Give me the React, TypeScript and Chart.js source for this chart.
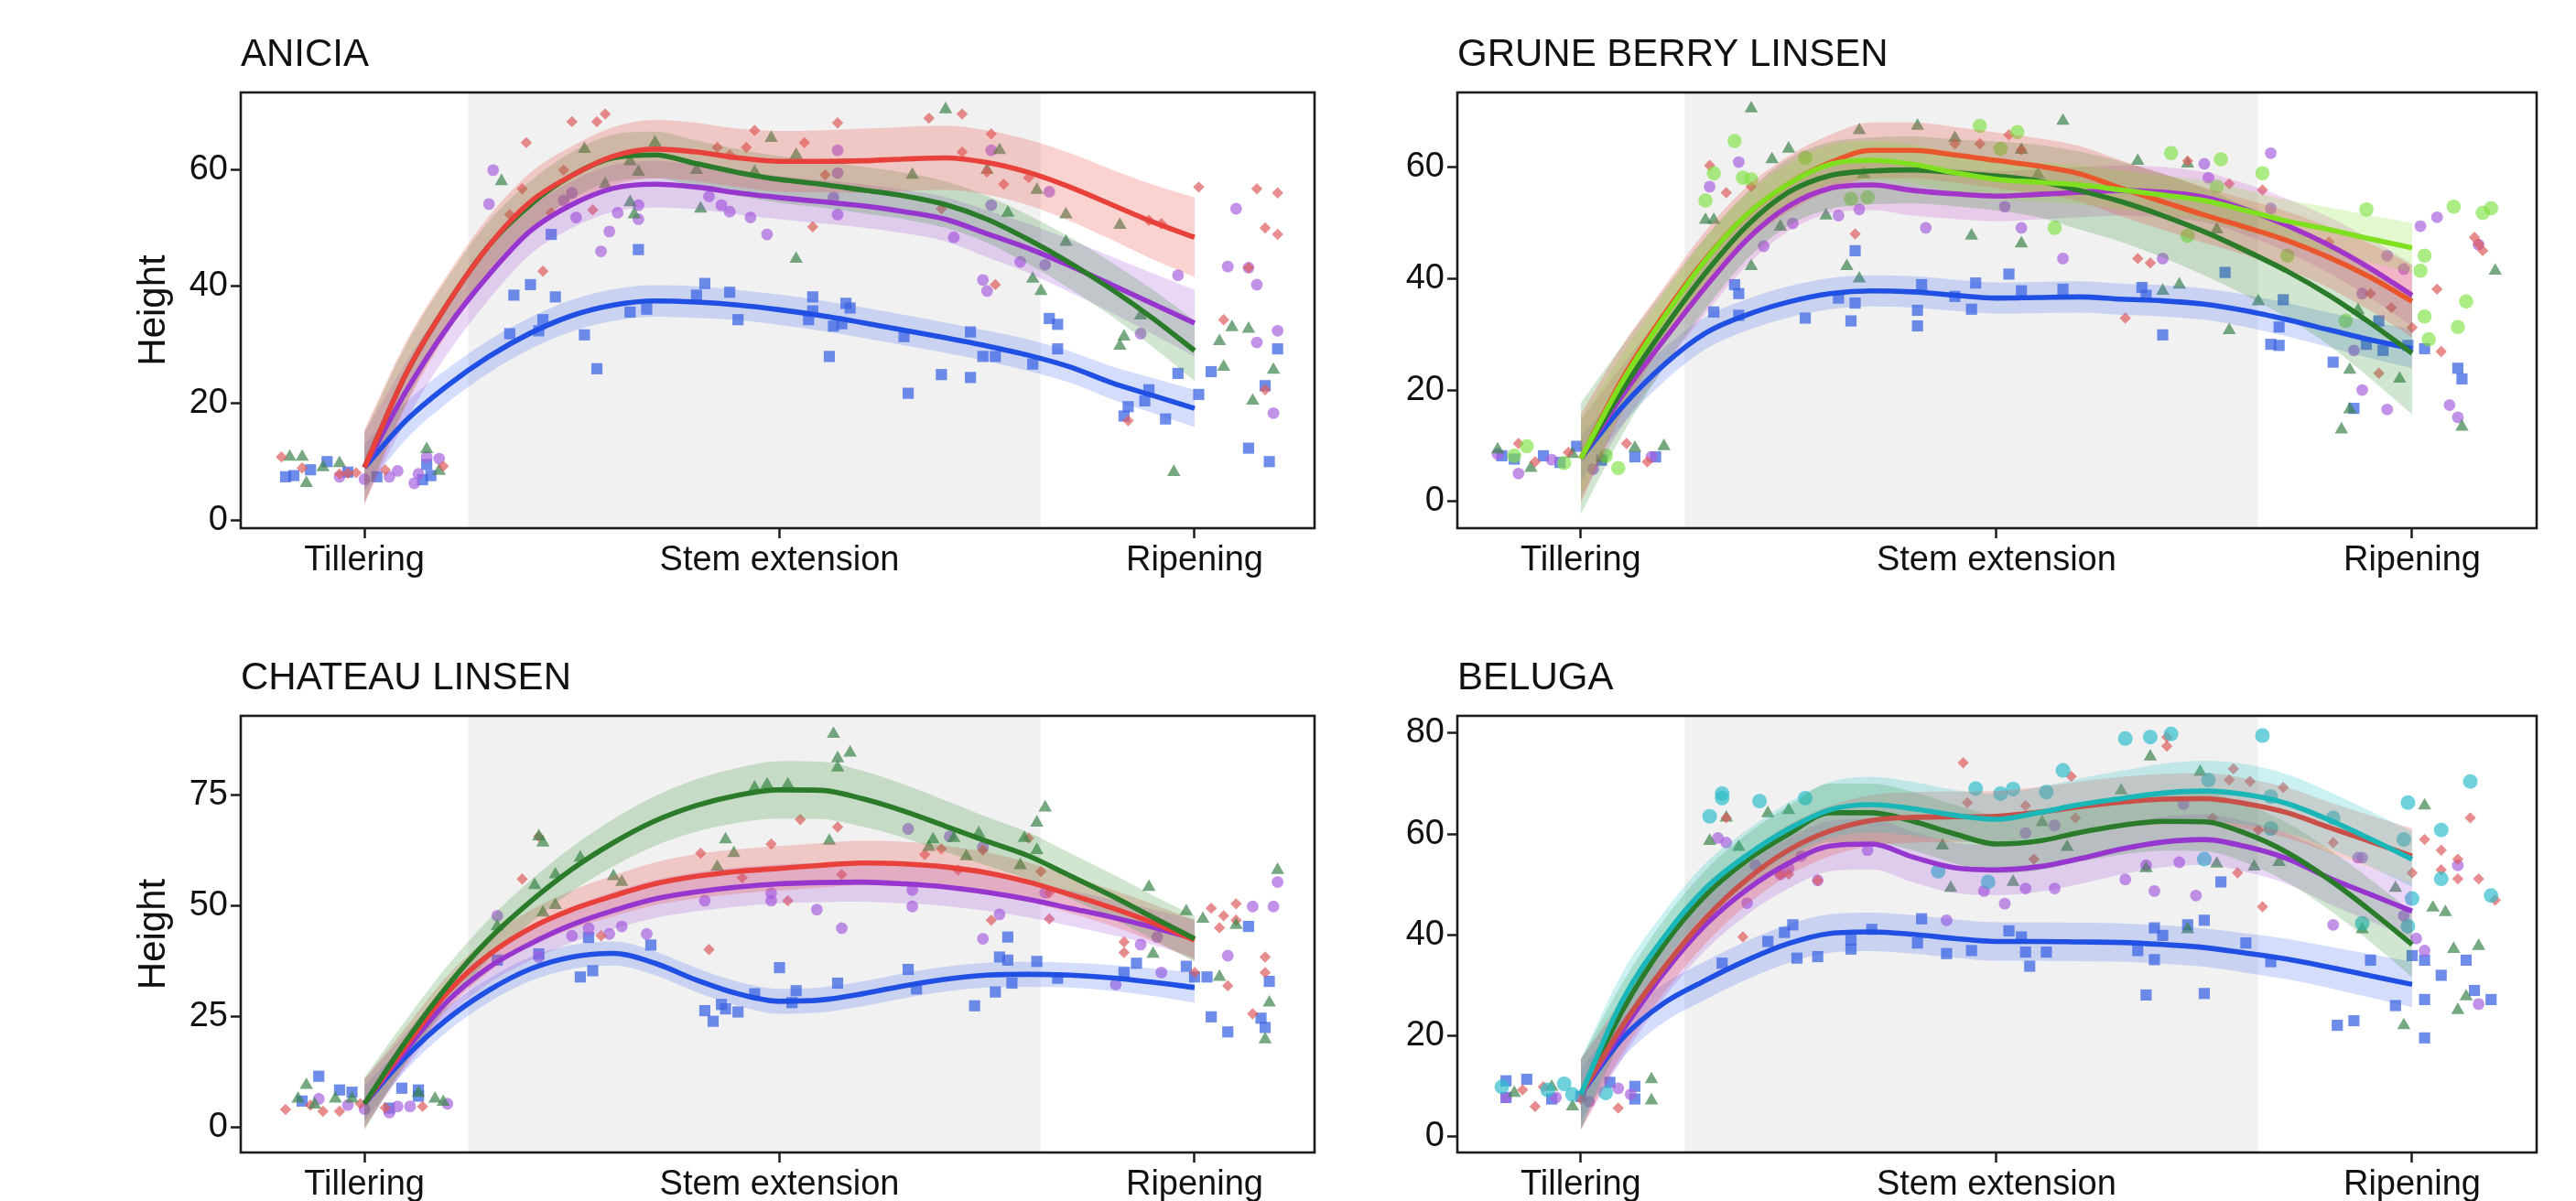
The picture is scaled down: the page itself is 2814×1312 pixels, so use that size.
import React, { useEffect, useRef } from "react";
import { Chart, registerables } from "chart.js";

Chart.register(...registerables);
Chart.defaults.font.family = '"Liberation Sans", Arial, Helvetica, sans-serif';

// ---------- shared axis data ----------
const STAGES = ["Tillering", "Stem extension", "Ripening"];
const STAGE_POS = [1, 2, 3];
const STEM_BAND = [1.25, 2.629];
const Y_TITLE = "Height";
const FIT_X = [1.0, 1.1, 1.2, 1.3, 1.4, 1.5, 1.6, 1.7, 1.8, 1.9, 2.0, 2.1, 2.2, 2.3, 2.4, 2.5, 2.6, 2.7, 2.8, 2.9, 3.0];

// ---------- ANICIA ----------
const ANICIA_Y_TICKS = [0, 20, 40, 60];
const anicia_red_fit = [9, 25, 37, 47, 54.5, 59, 62.3, 63.5, 63, 62, 61.4, 61.4, 61.5, 61.8, 62, 61.2, 59.5, 57, 54, 51, 48.4];
const anicia_red_se = [6.5, 5.5, 5, 5, 5, 5, 5, 5, 5, 5, 5.2, 5.3, 5.5, 5.5, 5.5, 5.5, 5.6, 5.8, 6, 6.4, 6.8];
const anicia_green_fit = [9, 25, 37, 47, 54, 59, 62, 62.5, 61, 59.5, 58.3, 57.5, 56.5, 55.5, 54, 51.5, 48, 44, 39.5, 34.5, 29];
const anicia_green_se = [6, 5, 4.5, 4.2, 4, 4, 4, 4, 4, 4, 4, 4, 4, 4, 4, 4, 4.2, 4.4, 4.6, 4.9, 5.2];
const anicia_purple_fit = [9, 22, 33, 42, 49.5, 54, 56.8, 57.5, 57, 56, 55.2, 54.5, 53.8, 52.8, 51.5, 49, 46.5, 43.5, 40.3, 37, 33.7];
const anicia_purple_se = [6, 5, 4.5, 4.2, 4, 4, 4, 4, 3.8, 3.7, 3.7, 3.7, 3.7, 3.7, 3.8, 4, 4.2, 4.5, 4.8, 5.2, 5.7];
const anicia_blue_fit = [9, 17, 23, 28, 32, 35, 36.8, 37.5, 37.3, 36.8, 36, 35, 33.8, 32.5, 31.2, 29.8, 28.2, 26.2, 23.5, 21.3, 19.1];
const anicia_blue_se = [4, 3.2, 2.9, 2.8, 2.7, 2.7, 2.7, 2.7, 2.7, 2.6, 2.6, 2.6, 2.6, 2.6, 2.6, 2.6, 2.7, 2.7, 2.8, 3, 3.2];
const anicia_blue_pts = [[0.81,7.4],[0.83,7.6],[0.91,10.0],[1.03,7.4],[1.14,6.9],[1.16,7.6],[1.15,9.5],[0.87,8.6],[0.96,8.2],
  [1.45,48.9],[1.66,46.3],[1.40,40.3],[1.36,38.5],[1.46,38.2],[1.43,34.3],[1.35,31.9],[1.42,32.4],[1.53,31.7],[1.56,25.9],[1.64,35.6],[1.68,36.1],[1.82,40.5],[1.88,39.0],[1.90,34.3],[1.80,38.5],[2.08,38.2],[2.08,35.8],[2.07,34.3],[2.16,37.1],[2.17,36.3],[2.13,33.2],[2.15,33.6],[2.12,28.0],[2.30,31.4],[2.46,32.2],[2.39,24.9],[2.46,24.4],[2.31,21.7],[2.49,28.0],[2.52,28.0],[2.61,26.7],
  [2.65,34.5],[2.67,33.5],[2.67,29.3],[2.96,25.1],[2.89,22.3],[2.88,20.4],[2.84,19.4],[2.93,17.3],[2.83,17.8],[3.01,21.5],[3.04,25.4],[3.20,29.3],[3.17,23.0],[3.13,12.3],[3.18,10.0]];
const anicia_red_pts = [[0.80,10.8],[0.85,8.9],[0.94,7.9],[0.96,8.0],[0.98,8.1],[1.19,9.2],[1.05,8.6],
  [1.50,68.2],[1.56,68.2],[1.58,69.5],[1.39,64.6],[1.38,56.7],[1.35,52.3],[1.48,59.9],[1.43,42.6],[1.45,52.6],[1.55,53.1],[1.94,66.7],[1.92,63.8],[1.85,63.8],[1.88,62.5],[2.14,68.0],[2.06,64.6],[2.36,68.8],[2.44,69.5],[2.51,66.1],[2.44,63.0],[2.50,59.6],[2.54,57.5],[2.60,58.6],[2.39,53.3],[2.08,50.2],[2.11,59.1],[2.52,40.3],[2.89,51.3],[2.92,50.7],[2.84,17.0],[3.01,57.0],
  [3.15,56.7],[3.20,56.0],[3.17,50.0],[3.20,48.9],[3.07,34.3],[3.13,43.2],[3.17,22.3]];
const anicia_green_pts = [[0.82,10.8],[0.85,10.8],[0.86,6.3],[0.94,9.7],[1.15,12.1],[1.18,8.4],[0.90,9.0],
  [1.33,58.0],[1.53,63.5],[1.70,64.6],[1.64,61.4],[1.66,59.6],[1.64,54.4],[1.65,52.3],[1.58,57.5],[1.81,53.3],[1.98,65.4],[1.94,59.6],[1.80,59.9],[2.40,70.3],[2.04,62.5],[2.32,59.1],[2.53,63.3],[2.50,59.9],[2.62,56.5],[2.69,52.3],[2.82,50.5],[2.55,52.6],[2.69,47.6],[2.04,44.7],[2.61,41.3],[2.63,39.2],[2.87,35.0],[2.83,31.4],[2.82,29.8],[2.95,8.2],
  [3.09,33.0],[3.13,32.7],[3.06,30.6],[3.07,26.2],[3.19,25.7],[3.14,20.4]];
const anicia_purple_pts = [[0.94,7.4],[1.06,7.4],[1.08,8.4],[1.12,6.3],[1.15,10.8],[1.18,10.5],[1.13,7.9],[1.00,7.0],
  [1.31,59.9],[1.30,54.1],[1.50,56.0],[1.51,51.8],[1.61,52.6],[1.59,49.4],[1.57,46.0],[1.66,53.9],[1.66,51.5],[1.83,55.4],[1.86,53.9],[1.88,52.8],[1.93,51.8],[1.97,48.9],[1.48,54.7],[2.14,63.3],[2.14,59.4],[2.14,52.3],[2.13,55.2],[2.42,48.4],[2.51,63.3],[2.51,53.9],[2.58,44.2],[2.64,43.7],[2.49,41.1],[2.50,39.2],[2.65,56.2],[2.87,31.9],[2.96,41.9],
  [3.10,53.3],[3.08,43.4],[3.13,43.2],[3.15,40.3],[3.20,32.4],[3.15,30.4],[3.19,18.3]];

// ---------- GRUNE BERRY LINSEN ----------
const GRUNE_Y_TICKS = [0, 20, 40, 60];
const grune_lime_fit = [7.7, 21.5, 33, 43.3, 51.5, 57, 60.5, 61.2, 60.5, 59, 57.8, 57.3, 56.8, 55.9, 55, 54, 52.2, 50.3, 48.8, 47.1, 45.5];
const grune_lime_se = [7, 5, 4.2, 4, 3.8, 3.6, 3.5, 3.5, 3.5, 3.5, 3.5, 3.5, 3.5, 3.5, 3.5, 3.6, 3.7, 3.8, 4, 4.2, 4.5];
const grune_red_fit = [7.7, 22, 33.5, 43.5, 51.5, 57, 60.8, 63, 63, 62.2, 61.2, 60.2, 58.8, 56.2, 53.8, 51.4, 49.2, 46.8, 43.8, 40.2, 35.9];
const grune_red_se = [8, 6, 5, 5, 5, 5, 5, 5, 5, 5, 5, 5, 5, 5, 5, 5, 5, 5.2, 5.5, 6, 6.5];
const grune_green_fit = [7.7, 20, 31, 41, 49.5, 55.5, 58.5, 59.3, 59.5, 59, 58.4, 57.5, 55.8, 53.8, 51.3, 48.4, 45, 41.3, 37, 32, 26.6];
const grune_green_se = [10, 8, 7, 6.5, 6, 6, 6, 6, 6, 6, 6.2, 6.5, 7, 7.2, 7.5, 7.8, 8, 8.4, 9, 10, 11];
const grune_purple_fit = [7.7, 19, 29, 38.5, 47, 53, 56.2, 56.8, 55.8, 55.2, 54.8, 55.1, 55.5, 55.8, 55.5, 54.6, 52.4, 49.5, 46, 41.8, 37];
const grune_purple_se = [7, 5.5, 5, 4.8, 4.6, 4.5, 4.5, 4.5, 4.5, 4.5, 4.5, 4.5, 4.5, 4.5, 4.5, 4.5, 4.6, 4.8, 5, 5.3, 5.6];
const grune_blue_fit = [7.7, 17, 24.5, 30.2, 33.5, 35.8, 37.3, 37.8, 37.6, 37, 36.5, 36.6, 36.7, 36.3, 36, 35.4, 34.2, 32.6, 30.8, 29, 27.4];
const grune_blue_se = [4, 3.2, 3, 2.9, 2.8, 2.8, 2.8, 2.8, 2.8, 2.8, 2.8, 2.8, 2.8, 2.8, 2.8, 2.8, 2.9, 3, 3.1, 3.3, 3.5];
const grune_blue_pts = [[0.81,8.2],[0.84,7.6],[0.91,8.2],[0.99,9.9],[1.13,8.0],[1.18,8.0],[1.05,7.4],[0.95,7.0],
  [1.66,45.0],[1.37,38.9],[1.38,37.3],[1.32,34.0],[1.38,33.4],[1.54,32.9],[1.62,36.5],[1.66,35.6],[1.65,32.4],[1.81,34.3],[1.81,31.5],[1.82,38.9],[1.95,39.2],[1.94,34.5],[1.90,36.8],[2.03,40.8],[2.06,37.8],[2.16,38.1],[2.35,38.4],[2.36,37.0],[2.40,29.9],[2.55,41.1],[2.66,28.2],[2.68,28.0],[2.69,36.2],[2.68,31.3],[2.92,32.4],[2.81,25.0],[2.89,28.2],[2.93,27.1],[2.86,16.7],[2.99,28.0],
  [3.03,27.4],[3.11,23.9],[3.12,22.0]];
const grune_red_pts = [[0.85,10.4],[0.89,7.1],[1.11,10.4],[1.16,7.1],[0.97,8.8],
  [1.31,60.3],[1.35,55.4],[1.41,56.5],[1.66,48.0],[1.96,64.2],[1.90,64.2],[2.03,65.8],[2.06,63.1],[2.46,61.1],[2.56,57.0],[2.34,43.6],[2.37,42.8],[2.31,32.9],[2.64,55.9],[2.80,46.6],[2.90,37.3],[2.95,34.8],[3.00,31.2],[2.92,23.0],
  [3.06,38.1],[3.07,26.9],[3.15,47.4],[3.17,45.0],[3.16,46.2]];
const grune_green_pts = [[0.80,9.3],[1.20,9.9],[1.13,9.6],[0.88,6.0],[0.98,8.5],[1.05,7.8],
  [1.41,70.5],[1.67,66.6],[1.81,67.4],[1.50,63.3],[1.46,61.4],[1.30,50.5],[1.32,50.5],[1.41,42.2],[1.48,49.3],[1.59,51.3],[1.64,42.2],[1.67,40.0],[1.90,65.2],[1.94,47.7],[1.68,58.7],[2.16,68.3],[2.06,63.1],[2.34,61.1],[2.46,60.6],[2.10,58.7],[2.06,46.3],[2.40,37.8],[2.44,38.9],[2.56,30.7],[2.53,48.8],[2.63,35.9],[2.85,23.6],[2.85,16.5],[2.83,12.9],[2.97,22.0],[2.87,34.3],
  [3.12,13.4],[3.20,41.4]];
const grune_lime_pts = [[0.87,9.9],[0.96,6.9],[1.09,6.0],[1.06,8.2],[0.84,8.2],
  [1.37,64.7],[1.32,58.9],[1.30,54.0],[1.39,58.1],[1.41,57.8],[1.54,61.7],[1.65,54.3],[1.69,54.6],[1.96,67.4],[2.05,66.3],[2.01,63.3],[2.42,62.5],[2.54,61.4],[2.64,58.9],[2.14,49.1],[2.46,47.7],[2.53,56.5],[2.89,52.4],[2.70,44.1],[2.84,32.4],
  [3.03,44.1],[3.02,41.4],[3.03,33.2],[3.04,29.1],[3.10,52.9],[3.17,51.8],[3.19,52.6],[3.13,35.9],[3.11,31.3]];
const grune_purple_pts = [[0.85,5.0],[0.80,8.5],[1.03,5.8],[1.17,8.0],[0.93,7.5],
  [1.38,60.9],[1.31,56.5],[1.44,45.8],[1.51,49.9],[1.62,51.3],[1.67,52.4],[1.83,49.1],[2.66,62.5],[2.50,60.6],[2.51,58.1],[2.06,49.1],[2.16,43.6],[2.40,43.6],[2.02,52.9],[2.66,52.6],[2.94,44.1],[2.98,41.7],[2.88,37.3],[2.88,20.0],[2.94,16.5],[2.86,27.1],
  [3.02,49.4],[3.06,51.0],[3.16,46.1],[3.09,17.3],[3.11,15.1]];

// ---------- CHATEAU LINSEN ----------
const CHATEAU_Y_TICKS = [0, 25, 50, 75];
const chateau_green_fit = [5.4, 19.5, 32, 42.5, 51, 58.3, 64.3, 69.2, 72.7, 75, 76.2, 76.1, 74.2, 71.4, 68, 64.6, 61.3, 56.8, 52.3, 47.4, 42.6];
const chateau_green_se = [6, 4.8, 4.5, 4.5, 4.8, 5, 5.3, 5.6, 5.9, 6.2, 6.5, 6.5, 6.3, 6, 5.8, 5.5, 5.3, 5.1, 5, 5, 5.2];
const chateau_red_fit = [5.4, 18.5, 30.5, 39, 45, 49.2, 52.3, 55, 56.7, 57.8, 58.5, 59.2, 59.7, 59.5, 58.8, 57.5, 55.4, 52.6, 49.6, 46.2, 42.3];
const chateau_red_se = [5.5, 4.2, 3.8, 3.8, 4, 4.3, 4.6, 4.8, 5, 5, 5, 5, 5, 5, 4.8, 4.6, 4.4, 4.2, 4.1, 4.2, 4.5];
const chateau_purple_fit = [5.4, 17.5, 28.5, 36.2, 41.5, 45.8, 49, 51.6, 53.2, 54.3, 55, 55.3, 55.4, 55, 54.3, 53.1, 51.5, 49.5, 47.5, 45.2, 42.6];
const chateau_purple_se = [5.5, 4, 3.6, 3.6, 3.8, 4, 4.2, 4.3, 4.4, 4.4, 4.4, 4.4, 4.4, 4.4, 4.3, 4.2, 4.1, 4, 4, 4, 4.3];
const chateau_blue_fit = [5.4, 16, 24.5, 31, 35.8, 38.5, 39.3, 37.1, 33.3, 30.2, 28.5, 28.8, 30.2, 32, 33.5, 34.4, 34.6, 34.4, 33.8, 32.8, 31.6];
const chateau_blue_se = [4, 3, 2.8, 2.7, 2.7, 2.7, 2.7, 2.7, 2.7, 2.7, 2.8, 2.8, 2.8, 2.8, 2.8, 2.8, 2.8, 2.8, 2.9, 3.1, 3.4];
const chateau_green_pts = [[0.86,9.6],[0.84,6.5],[0.93,6.5],[0.97,6.5],[1.17,6.5],[1.19,5.8],[1.13,7.8],[0.88,5.2],
  [1.43,64.3],[1.42,65.7],[1.52,60.9],[1.46,57.1],[1.41,54.7],[1.32,45.4],[1.60,56.7],[1.62,55.4],[1.87,65.0],[1.89,61.9],[1.85,58.8],[1.94,76.7],[1.97,77.4],[1.46,50.2],[1.43,48.5],[2.13,88.8],[2.14,83.3],[2.17,84.6],[2.14,81.2],[2.02,77.4],[2.12,64.7],[2.37,65.0],[2.36,63.3],[2.42,65.3],[2.48,66.4],[2.45,61.2],[2.59,65.3],[2.62,68.8],[2.64,72.2],[2.62,62.6],[2.58,59.2],[2.89,54.3],[2.98,48.8],[2.90,39.2],
  [3.02,47.1],[3.10,45.7],[3.06,34.0],[3.20,58.1],[3.18,28.2],[3.17,19.9]];
const chateau_red_pts = [[0.81,4.1],[0.90,3.7],[0.94,3.7],[0.99,5.4],[1.14,4.8],[0.87,5.1],[1.05,4.5],
  [1.42,65.7],[1.38,56.1],[1.81,61.9],[1.98,64.0],[1.83,40.2],[1.57,43.3],[1.91,56.4],[2.05,69.5],[2.14,67.8],[2.15,57.1],[2.02,51.2],[2.35,61.6],[2.39,62.9],[2.43,58.1],[2.49,62.6],[2.60,65.3],[2.63,57.8],[2.51,46.8],[2.65,53.0],[2.65,47.1],[2.83,41.9],[2.83,39.5],[3.00,35.0],
  [3.04,49.5],[3.07,47.8],[3.06,45.1],[3.10,50.5],[3.10,46.8],[3.08,32.0],[3.17,38.5],[3.17,35.0],[3.14,25.7]];
const chateau_purple_pts = [[0.89,6.5],[0.96,5.1],[1.06,3.4],[1.08,4.8],[1.11,4.8],[1.20,5.4],[1.00,4.2],
  [1.32,47.8],[1.50,43.3],[1.54,45.0],[1.59,43.7],[1.62,45.4],[1.68,43.7],[1.82,51.2],[1.98,51.2],[1.98,52.9],[1.42,38.5],[2.09,49.2],[2.15,45.0],[2.31,67.4],[2.32,53.6],[2.32,49.9],[2.41,65.7],[2.49,63.3],[2.53,48.1],[2.49,42.6],[2.64,53.0],[2.87,41.3],[2.91,43.0],[2.92,35.0],[2.81,32.3],
  [3.14,49.9],[3.19,49.9],[3.08,38.8],[3.20,55.4]];
const chateau_blue_pts = [[0.89,11.6],[0.94,8.5],[1.09,8.9],[1.13,8.5],[1.13,7.1],[1.06,4.4],[0.97,8.0],[0.85,6.0],
  [1.69,41.2],[1.54,42.9],[1.52,34.0],[1.55,35.4],[1.82,26.4],[1.84,24.0],[1.86,27.8],[1.87,26.8],[1.90,26.1],[2.00,36.1],[1.94,30.2],[1.32,37.8],[1.42,39.2],[2.04,30.9],[2.03,28.2],[2.14,32.6],[2.31,35.7],[2.33,31.3],[2.47,27.5],[2.52,30.6],[2.53,38.5],[2.55,37.8],[2.55,43.0],[2.56,32.6],[2.62,37.5],[2.67,33.7],[2.86,37.1],[2.83,35.0],[2.98,36.4],[3.00,34.0],
  [3.03,34.0],[3.13,45.4],[3.04,25.0],[3.08,21.6],[3.16,24.7],[3.17,22.6],[3.18,33.0]];

// ---------- BELUGA ----------
const BELUGA_Y_TICKS = [0, 20, 40, 60, 80];
const beluga_cyan_fit = [8.4, 27, 39.5, 49.2, 55.8, 61, 64.8, 65.8, 65, 63.7, 62.9, 64.2, 65.8, 67, 68.1, 68.5, 67.8, 66, 62.8, 59, 55];
const beluga_cyan_se = [7, 5.5, 5, 5, 5, 5.2, 5.5, 5.5, 5.3, 5, 5, 5, 5.2, 5.5, 5.8, 6, 6, 5.8, 5.6, 5.5, 5.5];
const beluga_red_fit = [8.4, 22, 33.5, 43.3, 51, 56.8, 60.6, 62.7, 63.3, 63.4, 63.5, 64.3, 65.4, 66.3, 66.9, 67, 66, 64.2, 61.3, 58.5, 55.6];
const beluga_red_se = [7, 5.5, 5, 5, 5, 5, 5, 5, 5, 5, 5, 5, 5, 5, 5, 5, 5, 5, 5, 5.2, 5.5];
const beluga_green_fit = [8.4, 25, 38, 47.8, 54.8, 60, 64.2, 64.2, 62.5, 60, 58, 58.6, 60.3, 61.7, 62.5, 62.4, 60.1, 56.3, 51, 44.8, 38.1];
const beluga_green_se = [7, 5.5, 5, 5, 5.2, 5.5, 5.8, 5.8, 5.8, 5.8, 5.8, 5.8, 5.8, 5.8, 5.8, 5.8, 5.8, 5.9, 6, 6.2, 6.5];
const beluga_purple_fit = [8.4, 21, 32.5, 42, 49, 54.2, 57.6, 58, 55.4, 53.3, 52.9, 53.5, 55.1, 57, 58.4, 58.9, 57.5, 55.1, 51.3, 48, 44.7];
const beluga_purple_se = [7, 5.5, 5, 5, 5, 5, 5, 5, 5, 5, 5, 5, 5, 5, 5, 5, 5, 5, 5.1, 5.3, 5.5];
const beluga_blue_fit = [8.4, 19.5, 26.5, 31, 35, 38.3, 40.3, 40.6, 40.1, 39.3, 38.7, 38.7, 38.6, 38.5, 38.1, 37.5, 36.4, 35.2, 33.6, 31.9, 30.2];
const beluga_blue_se = [5, 4, 3.8, 3.8, 3.8, 3.8, 3.8, 3.8, 3.8, 3.8, 3.8, 3.8, 3.8, 3.8, 3.8, 3.8, 3.9, 4, 4.1, 4.3, 4.5];
const beluga_cyan_pts = [[0.81,9.9],[0.96,10.5],[1.06,8.7],[0.98,8.4],[0.92,9.3],
  [1.34,68.0],[1.34,67.1],[1.43,66.5],[1.31,63.5],[1.54,67.1],[1.95,69.0],[1.86,52.6],[1.98,50.5],[2.31,78.9],[2.37,79.2],[2.42,79.8],[2.64,79.5],[2.16,72.6],[2.01,68.0],[2.04,68.9],[2.12,68.3],[2.51,70.7],[2.66,67.4],[2.66,61.1],[2.81,63.2],[2.50,55.0],[2.98,58.9],[2.88,42.3],[2.99,41.7],[3.00,47.2],
  [2.99,66.2],[3.07,60.8],[3.14,70.4],[3.07,51.1],[3.19,47.8]];
const beluga_red_pts = [[0.89,6.0],[0.91,9.9],[1.09,5.7],[0.86,9.3],[1.00,7.5],
  [1.35,63.2],[1.39,39.6],[1.48,52.0],[1.50,52.0],[1.57,50.8],[1.92,74.1],[1.93,66.2],[2.41,79.2],[2.41,77.4],[2.18,71.4],[2.07,65.6],[2.19,63.2],[2.09,55.0],[2.52,63.2],[2.57,72.9],[2.56,70.7],[2.61,70.4],[2.69,69.2],[2.63,60.8],[2.58,52.3],[2.64,45.6],[2.81,58.3],[3.00,52.3],
  [3.03,58.9],[3.07,56.8],[3.14,63.2],[3.11,55.0],[3.11,51.1],[3.16,51.1],[3.20,46.9],[3.07,52.9]];
const beluga_green_pts = [[0.98,6.0],[1.17,11.4],[1.17,7.2],[0.93,9.9],[0.84,8.7],
  [1.35,63.2],[1.31,58.6],[1.45,64.1],[1.50,64.7],[1.38,57.4],[1.87,57.7],[1.89,49.3],[2.37,75.3],[2.49,72.3],[2.30,68.6],[2.11,62.3],[2.17,57.4],[2.04,50.5],[2.36,53.2],[2.53,54.1],[2.62,53.5],[2.68,54.4],[2.46,41.1],[2.96,49.3],[2.88,41.1],[2.98,22.1],
  [3.03,65.6],[3.05,45.4],[3.08,44.5],[3.10,37.2],[3.16,37.8],[3.13,27.8],[3.11,25.1]];
const beluga_purple_pts = [[0.82,7.8],[0.94,7.8],[1.09,9.6],[1.12,8.4],[1.02,7.0],
  [1.33,59.2],[1.35,58.3],[1.42,53.8],[1.40,46.3],[1.48,52.0],[1.50,53.2],[1.57,50.8],[1.69,56.8],[1.88,42.9],[1.97,48.7],[1.53,55.6],[2.07,60.2],[2.14,61.7],[2.02,46.2],[2.07,49.2],[2.14,49.2],[2.31,51.0],[2.38,48.7],[2.44,54.4],[2.48,47.8],[2.45,65.9],[2.36,53.8],[2.81,42.0],[2.87,55.3],[2.88,55.3],[3.01,39.3],[2.98,43.8],
  [3.03,36.9],[3.11,53.8],[3.16,26.3]];
const beluga_blue_pts = [[0.82,11.1],[0.82,7.8],[0.87,11.4],[0.93,7.5],[1.07,10.8],[1.13,7.5],[1.13,10.0],[1.00,8.0],
  [1.34,34.4],[1.45,38.7],[1.49,40.5],[1.51,42.0],[1.52,35.4],[1.57,35.7],[1.65,37.2],[1.65,39.0],[1.70,41.1],[1.82,43.2],[1.81,38.4],[1.88,36.3],[1.94,36.9],[2.03,40.8],[2.06,39.6],[2.07,36.6],[2.08,33.8],[2.12,36.6],[2.34,36.9],[2.38,41.4],[2.40,39.9],[2.38,35.1],[2.36,28.1],[2.50,28.4],[2.46,42.0],[2.50,42.9],[2.54,50.5],[2.60,38.4],[2.66,34.7],[2.90,35.0],[2.82,22.1],[2.86,23.0],[2.96,26.0],[3.00,35.9],
  [3.03,35.0],[3.03,27.2],[3.03,19.6],[3.07,32.0],[3.13,35.0],[3.15,29.0],[3.19,27.2]];

// ---------- styles ----------
type Kind = "blue" | "red" | "green" | "purple" | "lime" | "cyan";
const STYLE: Record<Kind, { line: string; point: string; band: string; shape: string; r: number }> = {
  blue: { line: "#1F4FE3", point: "rgba(62,102,226,0.75)", band: "rgba(60,100,235,0.22)", shape: "rect", r: 8.6 },
  red: { line: "#E8403A", point: "rgba(222,92,92,0.7)", band: "rgba(236,80,72,0.25)", shape: "rectRot", r: 6.2 },
  green: { line: "#2A7B2A", point: "rgba(60,132,76,0.7)", band: "rgba(40,140,40,0.22)", shape: "triangle", r: 8.4 },
  purple: { line: "#9636CE", point: "rgba(168,98,222,0.7)", band: "rgba(160,70,220,0.22)", shape: "circle", r: 6.4 },
  lime: { line: "#7EE01E", point: "rgba(128,226,66,0.65)", band: "rgba(130,225,40,0.22)", shape: "circle", r: 7.8 },
  cyan: { line: "#1BB6B8", point: "rgba(48,190,204,0.7)", band: "rgba(40,195,200,0.24)", shape: "circle", r: 8 },
};

interface SeriesCfg { kind: Kind; pts: number[][]; fit: number[]; se: number[]; lineColor?: string; bandColor?: string }
interface PanelCfg {
  title: string; yTicks: number[]; yMin: number; yMax: number; xMin: number; xMax: number;
  series: SeriesCfg[]; left: number; top: number; width: number; height: number;
  padTop: number; padRight: number; yAxisWidth: number; xAxisHeight: number; showYTitle: boolean;
}

const PANELS: PanelCfg[] = [
  {
    title: "ANICIA", yTicks: ANICIA_Y_TICKS, yMin: -1.4, yMax: 73.2, xMin: 0.702, xMax: 3.289,
    series: [
      { kind: "red", pts: anicia_red_pts, fit: anicia_red_fit, se: anicia_red_se },
      { kind: "green", pts: anicia_green_pts, fit: anicia_green_fit, se: anicia_green_se },
      { kind: "purple", pts: anicia_purple_pts, fit: anicia_purple_fit, se: anicia_purple_se },
      { kind: "blue", pts: anicia_blue_pts, fit: anicia_blue_fit, se: anicia_blue_se },
    ],
    left: 0, top: 0, width: 1460, height: 650, padTop: 101, padRight: 24, yAxisWidth: 263, xAxisHeight: 73, showYTitle: true,
  },
  {
    title: "GRUNE BERRY LINSEN", yTicks: GRUNE_Y_TICKS, yMin: -4.8, yMax: 73.4, xMin: 0.703, xMax: 3.2996,
    series: [
      { kind: "lime", pts: grune_lime_pts, fit: grune_lime_fit, se: grune_lime_se },
      { kind: "red", pts: grune_red_pts, fit: grune_red_fit, se: grune_red_se, lineColor: "#E9562C" },
      { kind: "green", pts: grune_green_pts, fit: grune_green_fit, se: grune_green_se },
      { kind: "purple", pts: grune_purple_pts, fit: grune_purple_fit, se: grune_purple_se, lineColor: "#A336C8", bandColor: "rgba(200,70,200,0.22)" },
      { kind: "blue", pts: grune_blue_pts, fit: grune_blue_fit, se: grune_blue_se },
    ],
    left: 1460, top: 0, width: 1354, height: 650, padTop: 101, padRight: 43, yAxisWidth: 132, xAxisHeight: 73, showYTitle: false,
  },
  {
    title: "CHATEAU LINSEN", yTicks: CHATEAU_Y_TICKS, yMin: -5.6, yMax: 92.9, xMin: 0.702, xMax: 3.289,
    series: [
      { kind: "green", pts: chateau_green_pts, fit: chateau_green_fit, se: chateau_green_se },
      { kind: "red", pts: chateau_red_pts, fit: chateau_red_fit, se: chateau_red_se },
      { kind: "purple", pts: chateau_purple_pts, fit: chateau_purple_fit, se: chateau_purple_se },
      { kind: "blue", pts: chateau_blue_pts, fit: chateau_blue_fit, se: chateau_blue_se },
    ],
    left: 0, top: 650, width: 1460, height: 680, padTop: 132, padRight: 24, yAxisWidth: 263, xAxisHeight: 71, showYTitle: true,
  },
  {
    title: "BELUGA", yTicks: BELUGA_Y_TICKS, yMin: -3.1, yMax: 83.4, xMin: 0.703, xMax: 3.2996,
    series: [
      { kind: "cyan", pts: beluga_cyan_pts, fit: beluga_cyan_fit, se: beluga_cyan_se },
      { kind: "red", pts: beluga_red_pts, fit: beluga_red_fit, se: beluga_red_se, lineColor: "#C85049" },
      { kind: "green", pts: beluga_green_pts, fit: beluga_green_fit, se: beluga_green_se },
      { kind: "purple", pts: beluga_purple_pts, fit: beluga_purple_fit, se: beluga_purple_se },
      { kind: "blue", pts: beluga_blue_pts, fit: beluga_blue_fit, se: beluga_blue_se },
    ],
    left: 1460, top: 650, width: 1354, height: 680, padTop: 132, padRight: 43, yAxisWidth: 132, xAxisHeight: 71, showYTitle: false,
  },
];

const TEXT = "#111111";
const AXIS = "#1c1c1c";

function Panel({ cfg }: { cfg: PanelCfg }) {
  const ref = useRef<HTMLCanvasElement | null>(null);

  useEffect(() => {
    if (!ref.current) return;
    const datasets: any[] = [];
    cfg.series.forEach((s) => {
      const st = STYLE[s.kind];
      const lineColor = s.lineColor || st.line;
      const bandColor = s.bandColor || st.band;
      datasets.push({
        label: s.kind + "-lo",
        data: FIT_X.map((x, i) => ({ x, y: s.fit[i] - s.se[i] })),
        borderWidth: 0, borderColor: "rgba(0,0,0,0)", pointRadius: 0, fill: false,
        cubicInterpolationMode: "monotone", order: 1,
      });
      datasets.push({
        label: s.kind + "-hi",
        data: FIT_X.map((x, i) => ({ x, y: s.fit[i] + s.se[i] })),
        borderWidth: 0, borderColor: "rgba(0,0,0,0)", pointRadius: 0, fill: "-1",
        backgroundColor: bandColor, cubicInterpolationMode: "monotone", order: 1,
      });
      datasets.push({
        label: s.kind,
        data: FIT_X.map((x, i) => ({ x, y: s.fit[i] })),
        borderColor: lineColor, borderWidth: 5.6, pointRadius: 0, fill: false,
        cubicInterpolationMode: "monotone", order: 0,
      });
      datasets.push({
        label: s.kind + "-pts",
        data: s.pts.map((p) => ({ x: p[0], y: p[1] })),
        showLine: false, pointStyle: st.shape, pointRadius: st.r,
        pointBackgroundColor: st.point, pointBorderWidth: 0, pointBorderColor: "rgba(0,0,0,0)",
        fill: false, order: 2,
      });
    });

    const deco = {
      id: "deco",
      beforeDatasetsDraw(chart: any) {
        const { ctx, chartArea: a } = chart;
        const xs = chart.scales.x;
        const x0 = xs.getPixelForValue(STEM_BAND[0]);
        const x1 = xs.getPixelForValue(STEM_BAND[1]);
        ctx.save();
        ctx.fillStyle = "#F1F1F1";
        ctx.fillRect(x0, a.top, x1 - x0, a.bottom - a.top);
        ctx.restore();
      },
      afterDraw(chart: any) {
        const { ctx, chartArea: a } = chart;
        ctx.save();
        ctx.strokeStyle = AXIS;
        ctx.lineWidth = 2.6;
        ctx.strokeRect(a.left, a.top, a.right - a.left, a.bottom - a.top);
        ctx.fillStyle = TEXT;
        ctx.font = '42px "Liberation Sans", Arial, Helvetica, sans-serif';
        ctx.textAlign = "left";
        ctx.textBaseline = "alphabetic";
        ctx.fillText(cfg.title, a.left, a.top - 29);
        ctx.restore();
      },
    };

    const chart = new Chart(ref.current, {
      type: "line",
      data: { datasets },
      options: {
        responsive: false,
        animation: false,
        devicePixelRatio: 1,
        events: [],
        layout: { padding: { left: 0, top: cfg.padTop, right: cfg.padRight, bottom: 0 } },
        plugins: { legend: { display: false }, tooltip: { enabled: false }, title: { display: false } },
        scales: {
          x: {
            type: "linear",
            min: cfg.xMin,
            max: cfg.xMax,
            afterBuildTicks: (s: any) => { s.ticks = STAGE_POS.map((v) => ({ value: v })); },
            afterFit: (s: any) => { s.height = cfg.xAxisHeight; },
            ticks: {
              callback: (_v: any, i: number) => STAGES[i],
              font: { size: 38, lineHeight: 1 },
              color: TEXT, padding: 6, maxRotation: 0, minRotation: 0, autoSkip: false,
            },
            grid: { display: true, drawOnChartArea: false, drawTicks: true, tickLength: 11, tickWidth: 2.5, tickColor: AXIS },
            border: { display: false },
          },
          y: {
            type: "linear",
            min: cfg.yMin,
            max: cfg.yMax,
            afterBuildTicks: (s: any) => { s.ticks = cfg.yTicks.map((v) => ({ value: v })); },
            afterFit: (s: any) => { s.width = cfg.yAxisWidth; },
            ticks: {
              callback: (v: any) => String(v),
              font: { size: 38, lineHeight: 1 },
              color: TEXT, padding: 3,
            },
            grid: { display: true, drawOnChartArea: false, drawTicks: true, tickLength: 11, tickWidth: 2.5, tickColor: AXIS },
            border: { display: false },
            title: {
              display: cfg.showYTitle, text: Y_TITLE, color: TEXT,
              font: { size: 42, lineHeight: 1 }, padding: { top: 147, bottom: 0 },
            },
          },
        },
      } as any,
      plugins: [deco],
    });
    return () => chart.destroy();
  }, [cfg]);

  return (
    <canvas
      ref={ref}
      width={cfg.width}
      height={cfg.height}
      style={{ position: "absolute", left: cfg.left, top: cfg.top, width: cfg.width, height: cfg.height }}
    />
  );
}

export default function App() {
  return (
    <div style={{ position: "absolute", left: 0, top: 0, width: 2814, height: 1312, overflow: "hidden", background: "#ffffff" }}>
      {PANELS.map((p) => (
        <Panel key={p.title} cfg={p} />
      ))}
    </div>
  );
}
